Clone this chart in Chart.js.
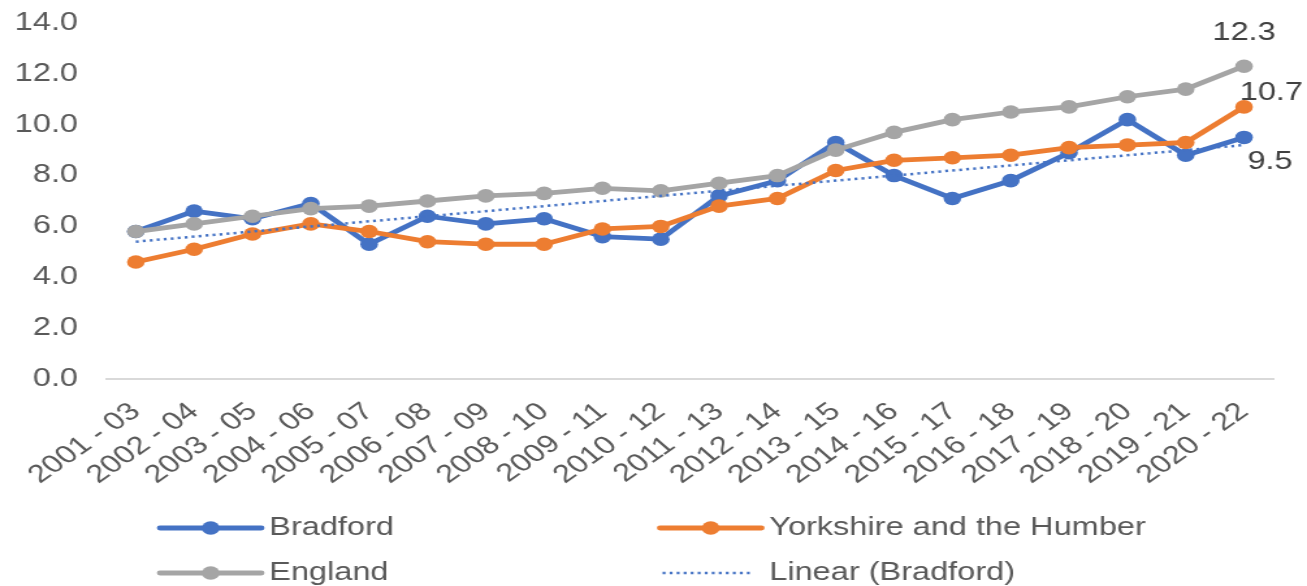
<!DOCTYPE html>
<html lang="en">
<head>
<meta charset="UTF-8">
<title>Bradford, Yorkshire and the Humber, England</title>
<script src="https://cdn.jsdelivr.net/npm/chart.js"></script>
<style>
    body {
        margin: 0;
        background: #ffffff;
        overflow: hidden;
    }
    #rateChart {
        display: block;
    }
</style>
</head>
<body>
<!-- the source picture is stretched sideways, so the chart is drawn narrow and widened -->
<canvas id="rateChart" width="1005" height="586" style="width:1307px;height:586px"></canvas>
<script>
    // Data
    const periods = ['2001 - 03', '2002 - 04', '2003 - 05', '2004 - 06', '2005 - 07',
        '2006 - 08', '2007 - 09', '2008 - 10', '2009 - 11', '2010 - 12',
        '2011 - 13', '2012 - 14', '2013 - 15', '2014 - 16', '2015 - 17',
        '2016 - 18', '2017 - 19', '2018 - 20', '2019 - 21', '2020 - 22'];
    const bradford = [5.8, 6.6, 6.3, 6.9, 5.3, 6.4, 6.1, 6.3, 5.6, 5.5,
        7.2, 7.8, 9.3, 8.0, 7.1, 7.8, 8.9, 10.2, 8.8, 9.5];
    const yorkshire = [4.6, 5.1, 5.7, 6.1, 5.8, 5.4, 5.3, 5.3, 5.9, 6.0,
        6.8, 7.1, 8.2, 8.6, 8.7, 8.8, 9.1, 9.2, 9.3, 10.7];
    const england = [5.8, 6.1, 6.4, 6.7, 6.8, 7.0, 7.2, 7.3, 7.5, 7.4,
        7.7, 8.0, 9.0, 9.7, 10.2, 10.5, 10.7, 11.1, 11.4, 12.3];
    // Excel's linear trendline for Bradford: only its two ends are read
    const bradfordTrend = [5.4, null, null, null, null, null, null, null, null, null,
        null, null, null, null, null, null, null, null, null, 9.2];
    const yTicks = [0, 2, 4, 6, 8, 10, 12, 14];

    const FONT = '"Liberation Sans", Arial, sans-serif';
    const BLUE = '#4472C4';
    const ORANGE = '#ED7D31';
    const GREY = '#A5A5A5';

    function seriesLine(label, data, color, order, slot, endLabel) {
        return {
            label: label,
            data: data,
            borderColor: color,
            backgroundColor: color,
            borderWidth: 4.8,
            pointRadius: 6.8,
            pointHoverRadius: 7.8,
            pointBorderWidth: 0,
            borderJoinStyle: 'round',
            tension: 0,
            order: order,
            legendSlot: slot,
            endLabel: endLabel
        };
    }

    // last-value labels, like Excel's data labels on the final point
    const endLabels = {
        id: 'endLabels',
        afterDatasetsDraw(chart) {
            const ctx = chart.ctx;
            ctx.save();
            ctx.font = '25px ' + FONT;
            ctx.fillStyle = '#404040';
            ctx.textAlign = 'center';
            ctx.textBaseline = 'middle';
            chart.data.datasets.forEach((ds, i) => {
                if (!ds.endLabel) return;
                const pts = chart.getDatasetMeta(i).data;
                const last = pts[pts.length - 1];
                const value = ds.data[ds.data.length - 1];
                ctx.fillText(value.toFixed(1), last.x + ds.endLabel.dx, last.y + ds.endLabel.dy);
            });
            ctx.restore();
        }
    };

    // two-column legend under the axis
    const legendGrid = {
        id: 'legendGrid',
        afterDraw(chart) {
            const ctx = chart.ctx;
            const colX = [123, 507.5];
            const rowY = [528, 573];
            ctx.save();
            chart.data.datasets.forEach(ds => {
                const x = colX[ds.legendSlot[0]];
                const y = rowY[ds.legendSlot[1]];
                ctx.strokeStyle = ds.borderColor;
                if (ds.borderDash) {
                    ctx.lineWidth = ds.borderWidth;
                    ctx.lineCap = 'butt';
                    ctx.setLineDash(ds.borderDash);
                    ctx.beginPath();
                    ctx.moveTo(x + 2, y);
                    ctx.lineTo(x + 70, y);
                    ctx.stroke();
                    ctx.setLineDash([]);
                } else {
                    ctx.lineWidth = 4.8;
                    ctx.lineCap = 'round';
                    ctx.beginPath();
                    ctx.moveTo(x, y);
                    ctx.lineTo(x + 78, y);
                    ctx.stroke();
                    ctx.fillStyle = ds.backgroundColor;
                    ctx.beginPath();
                    ctx.arc(x + 39, y, 6.8, 0, Math.PI * 2);
                    ctx.fill();
                }
                ctx.font = '25px ' + FONT;
                ctx.fillStyle = '#595959';
                ctx.textAlign = 'left';
                ctx.textBaseline = 'middle';
                ctx.fillText(ds.label, x + 84, y);
            });
            ctx.restore();
        }
    };

    const tickFont = { family: FONT, size: 25 };

    new Chart(document.getElementById('rateChart'), {
        type: 'line',
        data: {
            labels: periods,
            datasets: [
                seriesLine('Bradford', bradford, BLUE, 3, [0, 0], { dx: 20, dy: 25 }),
                seriesLine('Yorkshire and the Humber', yorkshire, ORANGE, 2, [1, 0], { dx: 21, dy: -14 }),
                seriesLine('England', england, GREY, 1, [0, 1], { dx: 0, dy: -33 }),
                {
                    label: 'Linear (Bradford)',
                    data: bradfordTrend,
                    borderColor: BLUE,
                    backgroundColor: BLUE,
                    borderWidth: 2.5,
                    borderDash: [2.2, 3.2],
                    pointRadius: 0,
                    pointHoverRadius: 0,
                    spanGaps: true,
                    order: 0,
                    legendSlot: [1, 1]
                }
            ]
        },
        options: {
            responsive: false,
            animation: false,
            layout: { padding: { top: 23, right: 26, bottom: 100, left: 0 } },
            plugins: {
                legend: { display: false },
                tooltip: { enabled: true }
            },
            scales: {
                x: {
                    offset: true,
                    grid: { display: false, drawTicks: false },
                    border: { display: true, color: '#D9D9D9', width: 2 },
                    ticks: {
                        autoSkip: false,
                        minRotation: 42,
                        maxRotation: 42,
                        padding: 18,
                        color: '#595959',
                        font: tickFont
                    },
                    afterFit: scale => { scale.height = 107; }
                },
                y: {
                    min: 0,
                    max: 14,
                    grid: { display: false, drawTicks: false },
                    border: { display: false },
                    ticks: {
                        padding: 22,
                        color: '#595959',
                        font: tickFont,
                        callback: v => v.toFixed(1)
                    },
                    afterBuildTicks: scale => { scale.ticks = yTicks.map(v => ({ value: v })); },
                    afterFit: scale => {
                        scale.width = 82;
                        scale.paddingTop = 0;
                        scale.paddingBottom = 0;
                    }
                }
            }
        },
        plugins: [endLabels, legendGrid]
    });
</script>
</body>
</html>
